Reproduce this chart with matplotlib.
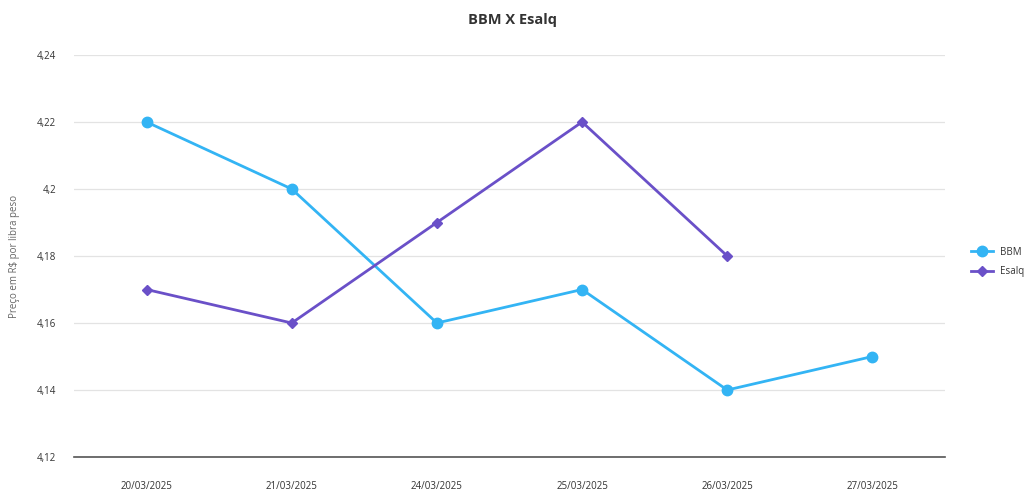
import numpy as np
import matplotlib
matplotlib.use("Agg")
import matplotlib.pyplot as plt

dates = ["20/03/2025", "21/03/2025", "24/03/2025", "25/03/2025", "26/03/2025", "27/03/2025"]
bbm = [4.22, 4.20, 4.16, 4.17, 4.14, 4.15]
esalq = [4.17, 4.16, 4.19, 4.22, 4.18, np.nan]
yticks = [4.12, 4.14, 4.16, 4.18, 4.20, 4.22, 4.24]

BBM_COL = "#33b4f4"
ESALQ_COL = "#6a50c8"
INK = "#333333"
MUTED = "#666666"
GRID = "#e3e3e3"

plt.rcParams["font.family"] = ["Open Sans", "DejaVu Sans"]

fig = plt.figure(figsize=(10.24, 4.9), dpi=100)
ax = fig.add_axes([74 / 1024, 1 - 457 / 490, 871 / 1024, 402 / 490])

x = np.arange(len(dates))
ax.plot(x, bbm, color=BBM_COL, lw=2.0, marker="o", ms=7.5, label="BBM", zorder=3)
ax.plot(x, esalq, color=ESALQ_COL, lw=2.0, marker="D", ms=5.5, label="Esalq", zorder=3)

ax.set_xlim(-0.5, len(dates) - 0.5)
ax.set_ylim(4.12, 4.24)
ax.set_xticks(x)
ax.set_xticklabels(dates, fontsize=7, color=INK)
ax.set_yticks(yticks)
ax.set_yticklabels([f"{v:g}".replace(".", ",") for v in yticks], fontsize=7, color=INK)
ax.tick_params(axis="both", length=0)
ax.tick_params(axis="x", pad=17)
ax.tick_params(axis="y", pad=13)

ax.grid(axis="y", color=GRID, lw=0.9)
ax.set_axisbelow(True)
for s in ("left", "right", "top"):
    ax.spines[s].set_visible(False)
ax.spines["bottom"].set_color("#555555")
ax.spines["bottom"].set_linewidth(1.2)

ax.set_ylabel(r"Preço em R\$ por libra peso", fontsize=7, color=MUTED)
ax.yaxis.set_label_coords(-0.062, 0.5)

fig.text(0.5, 1 - 20 / 490, "BBM X Esalq", ha="center", va="center",
         fontsize=10.5, fontweight="bold", color=INK)

ax.legend(loc="center left", bbox_to_anchor=(1.02, 0.485), frameon=False,
          fontsize=7, handlelength=2.2, labelspacing=0.9, labelcolor=INK)

fig.savefig("out.png", dpi=100, facecolor="white")
